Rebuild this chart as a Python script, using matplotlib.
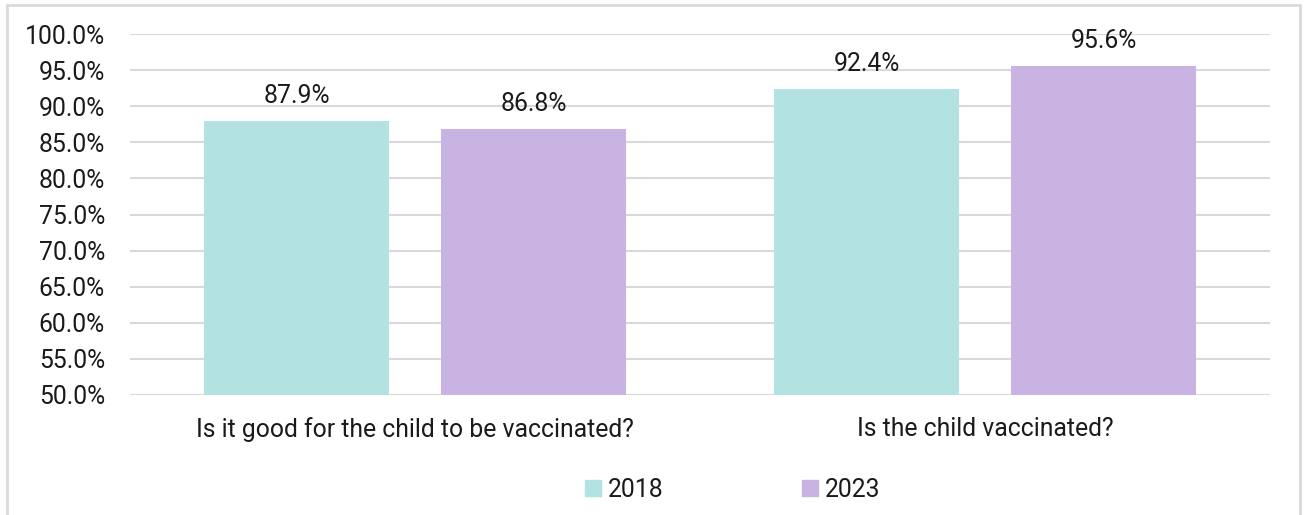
import matplotlib
matplotlib.use("Agg")
import matplotlib.pyplot as plt
from matplotlib.patches import Rectangle
import numpy as np

categories = ["Is it good for the child to be vaccinated?", "Is the child vaccinated?"]
series_names = ["2018", "2023"]
values_2018 = [87.9, 92.4]
values_2023 = [86.8, 95.6]
yticks = [50, 55, 60, 65, 70, 75, 80, 85, 90, 95, 100]

colors = ["#B2E2E2", "#C9B3E2"]
plt.rcParams['font.family'] = ['Roboto', 'DejaVu Sans']
FS = 17.8
TC = '#1a1a1a'

W, H = 1306, 515
fig = plt.figure(figsize=(W/100, H/100), dpi=100)
ax = fig.add_axes([130/W, 1-395/H, 1140/W, (395-34)/H])

x = np.arange(len(categories))
bw = 0.326
off = 0.208
b1 = ax.bar(x - off, values_2018, bw, color=colors[0], label=series_names[0], zorder=3)
b2 = ax.bar(x + off, values_2023, bw, color=colors[1], label=series_names[1], zorder=3)
for bars, vals in [(b1, values_2018), (b2, values_2023)]:
    for r, v in zip(bars, vals):
        ax.text(r.get_x()+r.get_width()/2, v+1.8, f"{v:.1f}%", ha='center', va='bottom',
                fontsize=FS, color=TC)

ax.set_xlim(-0.5, 1.5)
ax.set_ylim(50, 100)
ax.set_yticks(yticks)
ax.set_yticklabels([f"{t:.1f}%" for t in yticks], fontsize=FS, color=TC)
ax.set_xticks(x)
ax.set_xticklabels(categories, fontsize=FS, color=TC)
ax.tick_params(axis='both', length=0)
ax.tick_params(axis='y', pad=18)
ax.tick_params(axis='x', pad=16)
ax.grid(axis='y', color='#d9d9d9', linewidth=1.5, zorder=0)
for s in ax.spines.values():
    s.set_visible(False)

leg = fig.legend(handles=[Rectangle((0,0),1,1,color=c) for c in colors], labels=series_names,
                 loc='center', bbox_to_anchor=(733/W, 1-490/H), ncol=2, frameon=False,
                 fontsize=FS, handlelength=0.62, handleheight=0.62, handletextpad=0.3,
                 columnspacing=5.6)
for t in leg.get_texts():
    t.set_color(TC)

fig.patches.append(Rectangle((7/W, -0.05), (1300-7)/W, 1-5/H+0.05, transform=fig.transFigure,
                             fill=False, edgecolor='#d9d9d9', linewidth=2))
fig.savefig("out.png", dpi=100)
